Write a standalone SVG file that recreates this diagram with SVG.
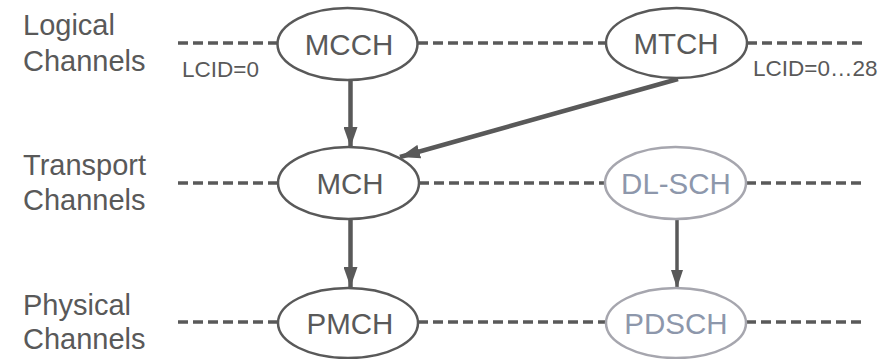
<svg xmlns="http://www.w3.org/2000/svg" width="883" height="359" viewBox="0 0 883 359">
  <style>
    .lbl { font-family: "Liberation Sans", Arial, sans-serif; font-size: 29px; fill: #595959; }
    .lcid { font-family: "Liberation Sans", Arial, sans-serif; font-size: 22.5px; fill: #595959; }
    .node ellipse { fill: #ffffff; stroke: #595959; stroke-width: 2.5; }
    .node text { font-family: "Liberation Sans", Arial, sans-serif; font-size: 29.5px; fill: #595959; text-anchor: middle; }
    .node.dim ellipse { stroke: #a6a6ae; }
    .node.dim text { fill: #8d97ab; }
    .dash { stroke: #595959; stroke-width: 3.5; stroke-dasharray: 10 5; fill: none; }
    .edge { stroke: #595959; stroke-width: 4.5; fill: none; }
    .edge.thin { stroke-width: 3.5; }
  </style>
  <defs>
    <marker id="head" markerUnits="userSpaceOnUse" markerWidth="20" markerHeight="14" refX="20" refY="7" orient="auto">
      <path d="M0,0 L20,7 L0,14 Z" fill="#595959"/>
    </marker>
    <marker id="headSmall" markerUnits="userSpaceOnUse" markerWidth="18" markerHeight="12" refX="18" refY="6" orient="auto">
      <path d="M0,0 L18,6 L0,12 Z" fill="#595959"/>
    </marker>
  </defs>

  <!-- layer captions -->
  <text class="lbl" x="23" y="35">Logical</text>
  <text class="lbl" x="23" y="71">Channels</text>
  <text class="lbl" x="23" y="175">Transport</text>
  <text class="lbl" x="23" y="210">Channels</text>
  <text class="lbl" x="23" y="315">Physical</text>
  <text class="lbl" x="23" y="349">Channels</text>

  <!-- dashed channel rows -->
  <g id="rows">
    <line class="dash" x1="178" y1="43" x2="277" y2="43"/>
    <line class="dash" x1="418" y1="43" x2="606" y2="43"/>
    <line class="dash" x1="747" y1="43" x2="863" y2="43"/>
    <line class="dash" x1="178" y1="183" x2="278" y2="183"/>
    <line class="dash" x1="419" y1="183" x2="605" y2="183"/>
    <line class="dash" x1="746" y1="183" x2="863" y2="183"/>
    <line class="dash" x1="178" y1="322" x2="278" y2="322"/>
    <line class="dash" x1="418" y1="322" x2="606" y2="322"/>
    <line class="dash" x1="746" y1="322" x2="863" y2="322"/>
  </g>

  <text class="lcid" x="182" y="77">LCID=0</text>
  <text class="lcid" x="753" y="76">LCID=0…28</text>

  <!-- mappings between layers -->
  <g id="connectors">
    <line class="edge" x1="350.5" y1="81" x2="350.5" y2="147" marker-end="url(#head)"/>
    <line class="edge" x1="678" y1="79" x2="400" y2="157" marker-end="url(#head)"/>
    <line class="edge" x1="350.5" y1="219" x2="350.5" y2="287" marker-end="url(#head)"/>
    <line class="edge thin" x1="677" y1="219" x2="677" y2="288" marker-end="url(#headSmall)"/>
  </g>

  <g id="mcch" class="node">
    <ellipse cx="347.5" cy="44" rx="70" ry="36"/>
    <text x="349" y="54.5">MCCH</text>
  </g>
  <g id="mtch" class="node">
    <ellipse cx="676.5" cy="43" rx="70.5" ry="35"/>
    <text x="676" y="53.5">MTCH</text>
  </g>
  <g id="mch" class="node">
    <ellipse cx="348.5" cy="183" rx="70.5" ry="36"/>
    <text x="350" y="193.5">MCH</text>
  </g>
  <g id="dl-sch" class="node dim">
    <ellipse cx="675.5" cy="183" rx="70.5" ry="36"/>
    <text x="676" y="193.5">DL-SCH</text>
  </g>
  <g id="pmch" class="node">
    <ellipse cx="348" cy="323" rx="70" ry="35"/>
    <text x="350" y="333.5">PMCH</text>
  </g>
  <g id="pdsch" class="node dim">
    <ellipse cx="676" cy="323" rx="70" ry="35"/>
    <text x="676" y="333.5">PDSCH</text>
  </g>
</svg>
